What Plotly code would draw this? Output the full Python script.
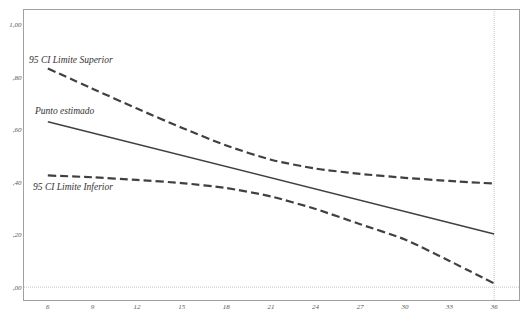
import plotly.graph_objects as go

# Data
x_vals = [6, 9, 12, 15, 18, 21, 24, 27, 30, 33, 36]
punto_estimado = [0.631, 0.588, 0.545, 0.502, 0.459, 0.416, 0.374, 0.331, 0.288, 0.245, 0.203]
ci_superior = [0.834, 0.757, 0.681, 0.608, 0.540, 0.486, 0.452, 0.432, 0.417, 0.405, 0.395]
ci_inferior = [0.426, 0.419, 0.409, 0.397, 0.378, 0.346, 0.298, 0.240, 0.182, 0.100, 0.014]

y_tickvals = [0.0, 0.2, 0.4, 0.6, 0.8, 1.0]
y_ticktext = [",00", ",20", ",40", ",60", ",80", "1,00"]
x_tickvals = [6, 9, 12, 15, 18, 21, 24, 27, 30, 33, 36]
x_ticktext = ["6", "9", "12", "15", "18", "21", "24", "27", "30", "33", "36"]

ref_y = 0.0
ref_x = 36

label_sup = "95 CI Limite Superior"
label_pe = "Punto estimado"
label_inf = "95 CI Limite Inferior"

line_color = "#404040"
serif = "Liberation Serif, DejaVu Serif, serif"

fig = go.Figure()
fig.add_trace(go.Scatter(x=x_vals, y=ci_superior, mode="lines", line=dict(color=line_color, width=2.2, dash="8px,4px", shape="spline", smoothing=0.6), hoverinfo="skip"))
fig.add_trace(go.Scatter(x=x_vals, y=punto_estimado, mode="lines", line=dict(color=line_color, width=1.6), hoverinfo="skip"))
fig.add_trace(go.Scatter(x=x_vals, y=ci_inferior, mode="lines", line=dict(color=line_color, width=2.2, dash="8px,4px", shape="spline", smoothing=0.6), hoverinfo="skip"))

fig.add_hline(y=ref_y, line=dict(color="#c4c4c4", width=1, dash="1px,1px"), layer="below")
fig.add_vline(x=ref_x, line=dict(color="#c4c4c4", width=1, dash="1px,1px"), layer="below")

ann_font = dict(family=serif, size=9.5, color="#333333", style="italic")
fig.add_annotation(x=x_vals[0], y=ci_superior[0], text=label_sup, showarrow=False, xanchor="left", yanchor="bottom", xshift=-21, yshift=1, font=ann_font)
fig.add_annotation(x=x_vals[0], y=punto_estimado[0], text=label_pe, showarrow=False, xanchor="left", yanchor="bottom", xshift=-16, yshift=4, font=ann_font)
fig.add_annotation(x=x_vals[0], y=ci_inferior[0], text=label_inf, showarrow=False, xanchor="left", yanchor="top", xshift=-17, yshift=-5, font=ann_font)

tick_font = dict(family=serif, size=7, color="#555555", style="italic")
fig.update_layout(
    width=531, height=319,
    margin=dict(l=13, r=20, t=1, b=27),
    paper_bgcolor="white", plot_bgcolor="white",
    showlegend=False,
    xaxis=dict(range=[4.4, 37.67], tickvals=x_tickvals, ticktext=x_ticktext, showgrid=False, zeroline=False,
               showline=True, mirror=True, linecolor="#a0a0a0", linewidth=1, ticks="", tickfont=tick_font),
    yaxis=dict(range=[-0.049, 1.057], tickvals=y_tickvals, ticktext=y_ticktext, showgrid=False, zeroline=False,
               showline=True, mirror=True, linecolor="#a0a0a0", linewidth=1, ticks="", tickfont=tick_font),
)

fig.write_html("out.html")
